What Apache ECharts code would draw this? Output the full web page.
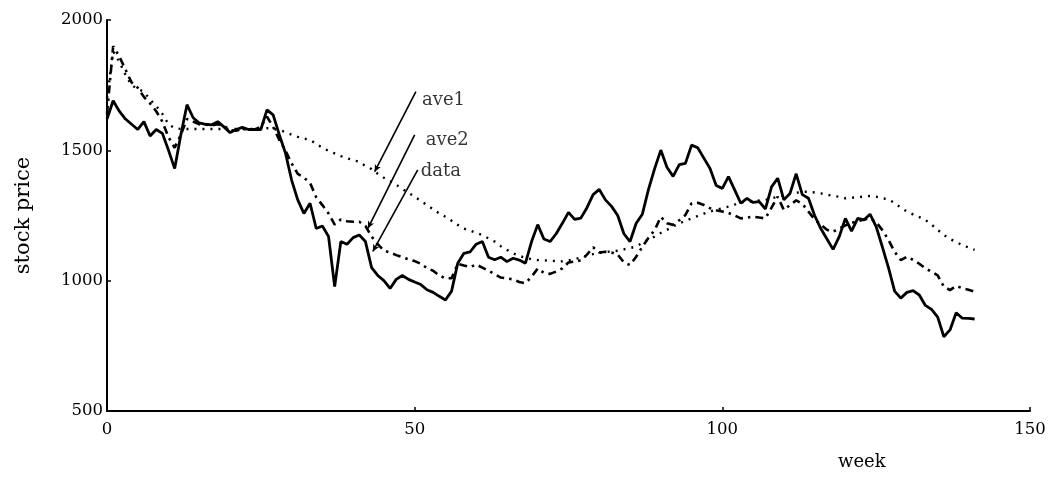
<!DOCTYPE html>
<html>
<head>
<meta charset="utf-8">
<script src="https://cdn.jsdelivr.net/npm/echarts@6/dist/echarts.min.js"></script>
<style>
html,body{margin:0;padding:0;background:#fff;}
#chart{width:1053px;height:477px;}
</style>
</head>
<body>
<div id="chart"></div>
<script>
// weekly values, week 0 .. 141
const dataVals = [1620,1690,1650,1620,1600,1580,1610,1555,1580,1565,1500,1430,1560,1675,1625,1605,1600,1598,1610,1590,
1568,1580,1588,1580,1580,1580,1655,1636,1560,1490,1386,1310,1258,1297,1200,1210,1170,977,1150,1140,
1165,1175,1150,1050,1020,1000,970,1005,1020,1005,995,985,965,955,940,926,960,1067,1105,1110,
1140,1150,1090,1080,1090,1073,1086,1079,1067,1150,1215,1160,1150,1180,1220,1262,1235,1240,1280,1330,
1350,1310,1285,1250,1180,1150,1220,1255,1350,1430,1501,1435,1400,1445,1450,1520,1510,1470,1430,1365,
1354,1399,1348,1297,1316,1300,1303,1275,1360,1393,1310,1335,1410,1330,1316,1250,1200,1160,1120,1169,
1239,1190,1239,1233,1255,1207,1130,1050,960,933,955,962,945,905,890,860,785,811,877,856,
855,853];
const ave1Vals = [1700,1880,1840,1790,1750,1735,1725,1695,1670,1640,1600,1585,1582,1582,1582,1582,1582,1582,1582,1582,
1582,1582,1582,1582,1582,1582,1585,1582,1578,1570,1560,1552,1545,1540,1525,1510,1498,1488,1478,1470,
1462,1456,1440,1428,1410,1395,1382,1368,1352,1337,1322,1306,1290,1274,1258,1245,1230,1214,1200,1192,
1183,1175,1162,1150,1132,1118,1105,1095,1088,1082,1079,1078,1077,1075,1074,1077,1083,1088,1095,1102,
1107,1110,1112,1115,1120,1125,1131,1145,1158,1169,1183,1195,1208,1220,1230,1239,1248,1257,1265,1272,
1278,1284,1292,1300,1303,1305,1308,1310,1316,1322,1329,1333,1337,1341,1341,1338,1335,1330,1325,1322,
1316,1318,1320,1323,1325,1322,1316,1312,1298,1280,1265,1254,1244,1233,1215,1195,1175,1160,1148,1137,
1127,1118];
const ave2Vals = [1640,1900,1860,1810,1760,1740,1705,1680,1650,1610,1550,1510,1560,1620,1610,1600,1598,1596,1600,1595,
1578,1575,1582,1580,1580,1590,1629,1590,1540,1500,1450,1410,1395,1375,1320,1290,1258,1215,1235,1228,
1226,1226,1210,1169,1140,1115,1108,1098,1090,1082,1075,1065,1048,1038,1020,1009,1009,1065,1058,1052,
1062,1050,1038,1025,1012,1009,1005,995,990,1015,1047,1030,1026,1035,1047,1070,1073,1078,1100,1128,
1108,1111,1108,1100,1070,1060,1092,1130,1165,1194,1245,1220,1214,1232,1252,1297,1299,1290,1278,1270,
1265,1260,1250,1239,1242,1246,1242,1239,1280,1322,1271,1290,1308,1295,1265,1235,1215,1195,1188,1200,
1212,1222,1228,1235,1238,1225,1194,1156,1111,1079,1092,1080,1065,1047,1034,1020,977,964,980,971,
965,958];
const xTicks = [0, 50, 100, 150];
const yTicks = [500, 1000, 1500, 2000];
// annotation labels: [name, week, value] and arrow lines [from week, from value, to week, to value]
const labelNames = ['ave1', 'ave2', 'data'];
const labelPos = [[51.2, 1693], [51.8, 1540], [51.0, 1418]];
const arrows = [[50.2, 1725, 43.5, 1418], [50.0, 1559, 42.4, 1201], [50.5, 1425, 43.2, 1112]];

const toPairs = arr => arr.map((v, i) => [i, v]);
const font = '"DejaVu Serif", "Liberation Serif", serif';

const chart = echarts.init(document.getElementById('chart'));
chart.setOption({
  animation: false,
  backgroundColor: '#fff',
  grid: {left: 107, right: 23, top: 20, bottom: 66, containLabel: false},
  xAxis: {
    type: 'value', min: 0, max: 150, interval: 50,
    axisLine: {show: true, lineStyle: {color: '#000', width: 2}},
    axisTick: {show: true, inside: true, length: 4, lineStyle: {color: '#000', width: 1.5}},
    splitLine: {show: false},
    axisLabel: {color: '#000', fontFamily: font, fontSize: 16.5, margin: 10,
      formatter: v => xTicks.includes(v) ? String(v) : ''}
  },
  yAxis: {
    type: 'value', min: 500, max: 2000, interval: 500,
    name: 'stock price', nameLocation: 'middle', nameGap: 73, nameRotate: 90,
    nameTextStyle: {color: '#000', fontFamily: font, fontSize: 21},
    axisLine: {show: true, lineStyle: {color: '#000', width: 2}},
    axisTick: {show: true, inside: true, length: 4, lineStyle: {color: '#000', width: 1.5}},
    splitLine: {show: false},
    axisLabel: {color: '#000', fontFamily: font, fontSize: 16.5, margin: 4,
      formatter: v => yTicks.includes(v) ? String(v) : ''}
  },
  series: [
    {name: 'ave1', type: 'line', data: toPairs(ave1Vals), showSymbol: false, symbol: 'none',
      lineStyle: {color: '#000', width: 2.4, type: [2, 6]}, z: 2},
    {name: 'ave2', type: 'line', data: toPairs(ave2Vals), showSymbol: false, symbol: 'none',
      lineStyle: {color: '#000', width: 2.6, type: [8, 5, 2.5, 5]}, z: 3},
    {name: 'data', type: 'line', data: toPairs(dataVals), showSymbol: false, symbol: 'none',
      lineStyle: {color: '#000', width: 2.8}, z: 4,
      markLine: {
        silent: true, symbol: ['none', 'arrow'], symbolSize: [5, 7],
        lineStyle: {color: '#000', width: 1.6, type: 'solid'},
        label: {show: false},
        data: arrows.map(a => [{coord: [a[0], a[1]]}, {coord: [a[2], a[3]]}])
      }},
    {name: 'labels', type: 'scatter', symbolSize: 0,
      data: labelNames.map((n, i) => ({name: n, value: labelPos[i]})),
      label: {show: true, position: 'right', distance: 0, formatter: p => p.name,
        color: '#000', fontFamily: font, fontSize: 18}, z: 5}
  ],
  graphic: [
    {type: 'text', left: 838, top: 453,
      style: {text: 'week', fill: '#000', font: '18px ' + font}}
  ]
});
</script>
</body>
</html>
